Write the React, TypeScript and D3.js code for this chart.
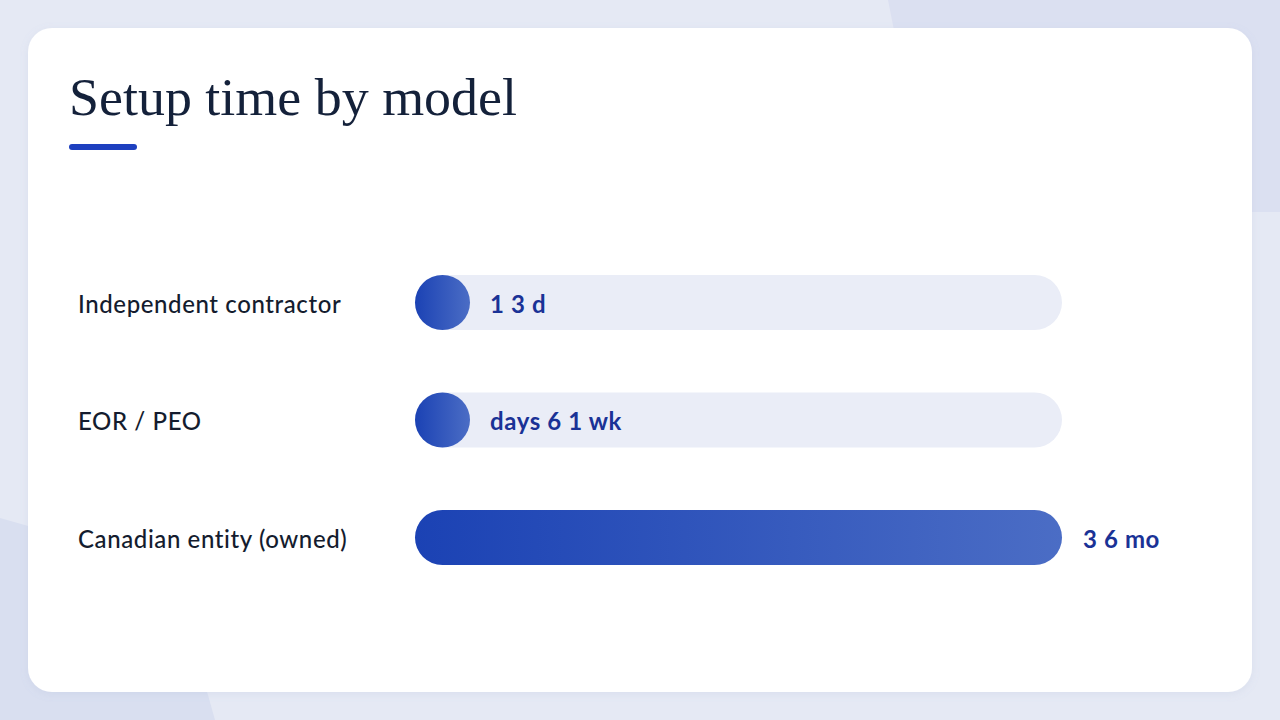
import React from "react";
import * as d3 from "d3";

const categories = ["Independent contractor", "EOR / PEO", "Canadian entity (owned)"];
const valueDays = [2, 5, 135];
const valueLabels = ["1 3 d", "days 6 1 wk", "3 6 mo"];
const title = "Setup time by model";

const W = 1280;
const H = 720;

export default function App() {
  const trackX0 = 415;
  const trackX1 = 1062;
  const barH = 55;
  const x = d3.scaleLinear().domain([0, d3.max(valueDays) as number]).range([0, trackX1 - trackX0]);
  const y = d3.scalePoint<string>().domain(categories).range([302.5, 537.5]);

  return (
    <div style={{ position: "fixed", left: 0, top: 0, width: W, height: H }}>
      <svg width={W} height={H} style={{ display: "block" }}>
        <defs>
          <linearGradient id="barGrad" x1="0" x2="1" y1="0" y2="0">
            <stop offset="0%" stopColor="#1b42b4" />
            <stop offset="100%" stopColor="#4b6dc5" />
          </linearGradient>
          <filter id="shadow" x="-5%" y="-5%" width="110%" height="115%">
            <feDropShadow dx="0" dy="2" stdDeviation="4" floodColor="#8090c0" floodOpacity="0.12" />
          </filter>
        </defs>
        <rect x={0} y={0} width={W} height={H} fill="#e5e9f4" />
        <path d="M888,0 L1280,0 L1280,212 L930,212 Z" fill="#dbe0f1" />
        <path d="M0,518 L60,535 L170,560 L215,720 L0,720 Z" fill="#d9dff0" />
        <rect x={28} y={28} width={1224} height={664} rx={24} fill="#ffffff" filter="url(#shadow)" />
        <text
          x={69}
          y={115}
          fontFamily="'Liberation Serif', serif"
          fontSize={52}
          textLength={448}
          lengthAdjust="spacingAndGlyphs"
          fill="#14213a"
        >
          {title}
        </text>
        <rect x={69} y={144} width={68} height={6} rx={3} fill="#1e40bf" />
        {categories.map((c, i) => {
          const cy = y(c) as number;
          const w = Math.max(barH, x(valueDays[i]));
          const full = w >= trackX1 - trackX0 - 1;
          return (
            <g key={c}>
              <text
                x={78}
                y={cy}
                dy="0.42em"
                fontFamily="Lato, 'Noto Sans', sans-serif"
                fontSize={24}
                letterSpacing={0.6}
                fontWeight={500}
                fill="#141c2e"
              >
                {c}
              </text>
              <rect x={trackX0} y={cy - barH / 2} width={trackX1 - trackX0} height={barH} rx={barH / 2} fill="#eaedf7" />
              <rect x={trackX0} y={cy - barH / 2} width={w} height={barH} rx={barH / 2} fill="url(#barGrad)" />
              <text
                x={full ? trackX1 + 21 : trackX0 + 75}
                y={cy}
                dy="0.42em"
                fontFamily="Lato, 'Noto Sans', sans-serif"
                fontSize={24}
                letterSpacing={0.6}
                fontWeight={700}
                fill="#1a3296"
              >
                {valueLabels[i]}
              </text>
            </g>
          );
        })}
      </svg>
    </div>
  );
}
